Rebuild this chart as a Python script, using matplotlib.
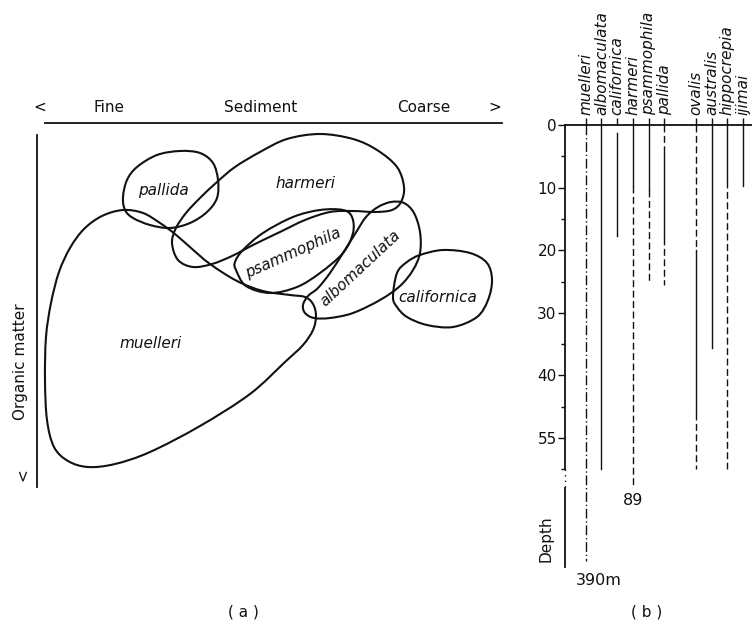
import matplotlib

matplotlib.use("Agg")
import matplotlib.pyplot as plt
import numpy as np
from matplotlib.path import Path
from matplotlib.patches import PathPatch

INK = "#111111"

# (a) range outlines: sediment grain (x) against organic matter (y), drawing units
MUELLERI = [(123, 210), (143, 213), (160, 223), (175, 234), (191, 248), (210, 264),
            (237, 281), (263, 291), (290, 295), (305, 297), (313, 304), (316, 316),
            (313, 330), (303, 345), (285, 362), (250, 394), (200, 426), (150, 452),
            (115, 464), (88, 467), (68, 461), (54, 447), (47, 420), (45, 380),
            (46, 337), (51, 303), (59, 272), (70, 248), (84, 229), (102, 216)]
PALLIDA = [(123, 197), (127, 180), (137, 167), (157, 155), (180, 151), (200, 153),
           (213, 163), (218, 180), (217, 198), (207, 212), (190, 223), (170, 228),
           (150, 225), (133, 218), (125, 210)]
HARMERI = [(172, 243), (176, 228), (186, 213), (200, 198), (217, 182), (235, 167),
           (260, 152), (287, 139), (320, 134), (353, 139), (377, 150), (397, 167),
           (404, 187), (401, 202), (392, 210), (375, 212), (353, 211), (330, 212),
           (305, 220), (280, 232), (255, 244), (232, 256), (212, 264), (193, 267),
           (178, 260)]
PSAMMOPHILA = [(236, 270), (246, 286), (270, 293), (297, 287), (320, 273), (343, 253),
               (353, 233), (352, 217), (343, 210), (320, 210), (293, 217), (263, 233),
               (243, 250), (235, 262)]
ALBOMACULATA = [(303, 305), (308, 296), (318, 288), (330, 273), (343, 253), (355, 234),
                (366, 217), (378, 207), (391, 202), (404, 203), (414, 213), (420, 232),
                (420, 253), (413, 270), (400, 286), (380, 300), (353, 313), (330, 318),
                (314, 318), (305, 313)]
CALIFORNICA = [(393, 297), (397, 273), (407, 262), (420, 255), (443, 250), (470, 253),
               (487, 263), (492, 280), (488, 300), (477, 317), (453, 327), (427, 325),
               (407, 317), (397, 307)]

OUTLINES = [MUELLERI, PALLIDA, HARMERI, PSAMMOPHILA, ALBOMACULATA, CALIFORNICA]
OUTLINE_NAMES = ["muelleri", "pallida", "harmeri", "psammophila", "albomaculata", "californica"]
NAME_POS = [(151, 343), (163, 191), (305, 183), (293, 253), (360, 268), (438, 297)]
NAME_ROT = [0, 0, 0, 24, 43, 0]

# (b) depth ranges in metres; each species is a list of (top, bottom, style)
SPECIES = ["muelleri", "albomaculata", "californica", "harmeri", "psammophila",
           "pallida", "ovalis", "australis", "hippocrepia", "ijimai"]
SLOTS = [0, 1, 2, 3, 4, 5, 7, 8, 9, 10]
SEGMENTS = [
    [(0, 69.7, "dashdot")],
    [(0, 55, "solid")],
    [(1.3, 17.8, "solid")],
    [(0, 9.8, "solid"), (9.8, 58, "dashed")],
    [(0, 10.4, "solid"), (10.4, 25, "dashed")],
    [(0, 4.5, "dashed"), (4.5, 18, "solid"), (18, 25.5, "dashed")],
    [(0, 20, "dashed"), (20, 46, "solid"), (46, 55, "dashed")],
    [(0, 35.6, "solid")],
    [(0, 9, "solid"), (9, 55, "dashed")],
    [(0, 9.8, "solid")],
]
DEPTH_TICKS = [0, 10, 20, 30, 40, 50]
DEPTH_TICK_LABELS = ["0", "10", "20", "30", "40", "55"]
DEPTH_MINOR = [5, 15, 25, 35, 45, 55]
DEEP_NOTES = [(3, 58.8, "89"), (0.84, 71.6, "390m")]

LINESTYLES = {"solid": "-", "dashed": (0, (5, 2.5)), "dashdot": (0, (7, 2, 1, 2))}


def smooth_closed(points):
    # closed Catmull-Rom curve through the points, as cubic Bezier pieces
    p = np.asarray(points, dtype=float)
    n = len(p)
    verts = [p[0]]
    codes = [Path.MOVETO]
    for i in range(n):
        p0, p1, p2, p3 = p[i - 1], p[i], p[(i + 1) % n], p[(i + 2) % n]
        verts += [p1 + (p2 - p0) / 6, p2 - (p3 - p1) / 6, p2]
        codes += [Path.CURVE4] * 3
    return Path(verts, codes)


W, H = 752, 624
fig = plt.figure(figsize=(W / 100, H / 100), dpi=100)
fig.patch.set_facecolor("white")

# ---- panel (a) ----
ax = fig.add_axes([0, 0, 540 / W, 1])
ax.set_xlim(0, 540)
ax.set_ylim(H, 0)
ax.axis("off")

for outline in OUTLINES:
    ax.add_patch(PathPatch(smooth_closed(outline), fill=False, edgecolor=INK, lw=1.5))
for name, (x, y), rot in zip(OUTLINE_NAMES, NAME_POS, NAME_ROT):
    ax.text(x, y, name, style="italic", fontsize=11, ha="center", va="center",
            rotation=rot, rotation_mode="anchor", color=INK)

ax.plot([45, 502], [123, 123], color=INK, lw=1.3)
ax.plot([37, 37], [135, 487], color=INK, lw=1.3)
for x, s in [(40, "<"), (109, "Fine"), (261, "Sediment"), (424, "Coarse"), (495, ">")]:
    ax.text(x, 107, s, fontsize=11, ha="center", va="center", color=INK)
ax.text(21, 362, "Organic matter", fontsize=11, rotation=90, ha="center", va="center", color=INK)
ax.text(23, 475, "<", fontsize=11, rotation=90, ha="center", va="center", color=INK)

# ---- panel (b) ----
bx = fig.add_axes([565 / W, (H - 567) / H, (W - 565) / W, (567 - 125) / H])
x_lo = (565 - 585.7) / 15.75
x_hi = (W - 585.7) / 15.75
bx.set_xlim(x_lo, x_hi)
bx.set_ylim(70.6, 0)
bx.patch.set_visible(False)
for side in ["right", "bottom"]:
    bx.spines[side].set_visible(False)
bx.spines["left"].set_bounds(0, 55)
for side in ["left", "top"]:
    bx.spines[side].set_linewidth(1.3)
    bx.spines[side].set_color(INK)

bx.xaxis.tick_top()
bx.set_xticks(SLOTS)
bx.set_xticklabels(SPECIES, rotation=90, style="italic", fontsize=11, color=INK)
bx.tick_params(axis="x", direction="out", length=5, width=1, pad=2, colors=INK)

bx.set_yticks(DEPTH_TICKS)
bx.set_yticklabels(DEPTH_TICK_LABELS, fontsize=11, color=INK)
bx.set_yticks(DEPTH_MINOR, minor=True)
bx.tick_params(axis="y", which="major", direction="out", length=5, width=1, pad=1, colors=INK)
bx.tick_params(axis="y", which="minor", direction="out", length=3, width=1, colors=INK)

# broken continuation of the depth axis
bx.plot([x_lo, x_lo], [55, 58], color=INK, lw=1.0, ls=(0, (1, 3)), clip_on=False)
bx.plot([x_lo, x_lo], [58, 70.6], color=INK, lw=1.3, clip_on=False)
bx.text(x_lo - 1.2, 66, "Depth", fontsize=11, rotation=90, ha="center", va="center", color=INK)

for slot, segs in zip(SLOTS, SEGMENTS):
    for top, bottom, style in segs:
        bx.plot([slot, slot], [top, bottom], color=INK, lw=1.0,
                ls=LINESTYLES[style], clip_on=False)
for x, y, s in DEEP_NOTES:
    bx.text(x, y, s, fontsize=11.5, ha="center", va="top", color=INK, clip_on=False)

fig.text(243 / W, 1 - 612 / H, "( a )", fontsize=11, ha="center", va="center", color=INK)
fig.text(647 / W, 1 - 612 / H, "( b )", fontsize=11, ha="center", va="center", color=INK)

fig.savefig("out.png", dpi=100)
